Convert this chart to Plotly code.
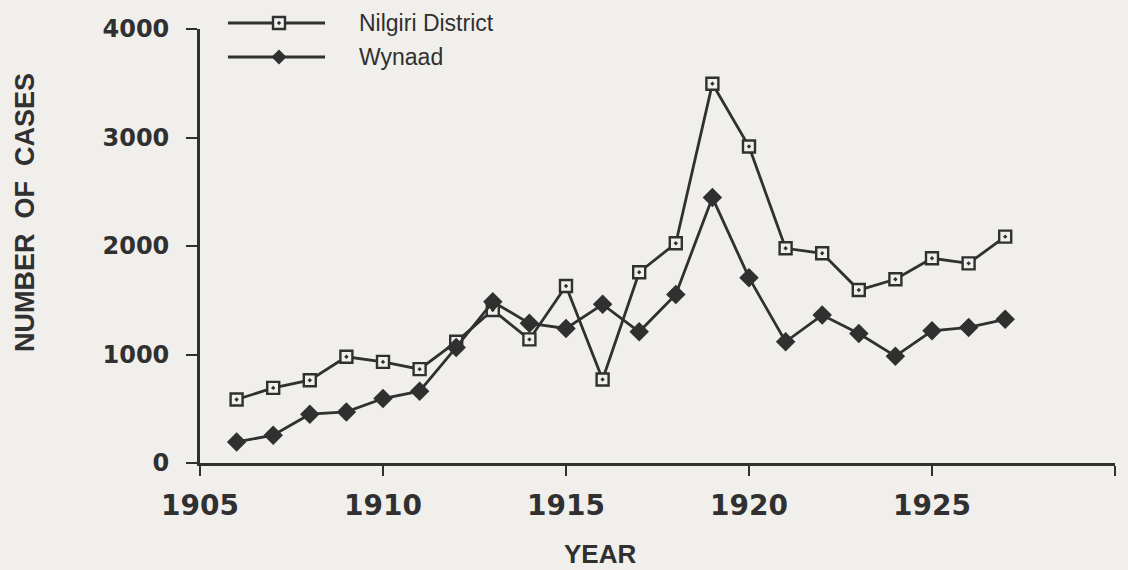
import plotly.graph_objects as go

# ---------------- data ----------------
years = list(range(1906, 1928))
nilgiri = [585, 692, 763, 979, 932, 865, 1117, 1410, 1139, 1631, 770,
           1758, 2025, 3496, 2917, 1979, 1933, 1594, 1693, 1887, 1840, 2086]
wynaad = [194, 256, 450, 471, 594, 662, 1065, 1486, 1287, 1240, 1462,
          1209, 1554, 2446, 1708, 1117, 1363, 1194, 985, 1219, 1250, 1324]
series_names = ["Nilgiri District", "Wynaad"]
x_tick_vals = [1905, 1910, 1915, 1920, 1925, 1930]
x_tick_text = ["1905", "1910", "1915", "1920", "1925", ""]
y_tick_vals = [0, 1000, 2000, 3000, 4000]
x_title = "YEAR"
y_title = "NUMBER  OF  CASES"

# ---------------- style ----------------
INK = "#303030"
BG = "#f1efec"
W, H = 1128, 570
L, R, T, B = 200, 13, 29, 107
PW, PH = W - L - R, H - T - B


def px_x(p):
    return (p - L) / PW


def px_y(p):
    return (H - B - p) / PH


fig = go.Figure()
fig.add_trace(go.Scatter(
    x=years, y=nilgiri, name=series_names[0], mode="lines+markers",
    line=dict(color=INK, width=2.8),
    marker=dict(symbol="square-dot", size=12, color=BG,
                line=dict(color=INK, width=2.4)),
    showlegend=False))
fig.add_trace(go.Scatter(
    x=years, y=wynaad, name=series_names[1], mode="lines+markers",
    line=dict(color=INK, width=2.8),
    marker=dict(symbol="diamond", size=15, color=INK, line=dict(width=0)),
    showlegend=False))

tickfont_x = dict(family="DejaVu Sans", size=28, color=INK, weight="bold")
tickfont_y = dict(family="DejaVu Sans", size=24, color=INK, weight="bold")

fig.update_xaxes(range=[1905, 1930], tickmode="array", tickvals=x_tick_vals,
                 ticktext=x_tick_text, ticks="outside", ticklen=10, tickwidth=2.4,
                 tickcolor=INK, showline=True, linecolor=INK, linewidth=2.8,
                 showgrid=False, zeroline=False, tickfont=tickfont_x,
                 ticklabelstandoff=5)
fig.update_yaxes(range=[0, 4000], tickmode="array", tickvals=y_tick_vals,
                 ticks="outside", ticklen=11, tickwidth=2.4, tickcolor=INK,
                 showline=True, linecolor=INK, linewidth=2.8, showgrid=False,
                 zeroline=False, tickfont=tickfont_y, ticklabelstandoff=12)

# ---------------- custom legend (long line samples) ----------------
shapes = []
annotations = []
legend_rows = [(23, "square"), (57, "diamond")]
for (ypix, kind), name in zip(legend_rows, series_names):
    shapes.append(dict(type="line", xref="paper", yref="paper",
                       x0=px_x(228), x1=px_x(325), y0=px_y(ypix), y1=px_y(ypix),
                       line=dict(color=INK, width=2.8)))
    if kind == "square":
        shapes.append(dict(type="rect", xref="paper", yref="paper",
                           xsizemode="pixel", ysizemode="pixel",
                           xanchor=px_x(279), yanchor=px_y(ypix),
                           x0=-6, x1=6, y0=-6, y1=6,
                           fillcolor=BG, line=dict(color=INK, width=2.4)))
        shapes.append(dict(type="circle", xref="paper", yref="paper",
                           xsizemode="pixel", ysizemode="pixel",
                           xanchor=px_x(279), yanchor=px_y(ypix),
                           x0=-1.3, x1=1.3, y0=-1.3, y1=1.3,
                           fillcolor=INK, line=dict(color=INK, width=1)))
    else:
        shapes.append(dict(type="path", xref="paper", yref="paper",
                           xsizemode="pixel", ysizemode="pixel",
                           xanchor=px_x(279), yanchor=px_y(ypix),
                           path="M0,7.5 L7.5,0 L0,-7.5 L-7.5,0 Z",
                           fillcolor=INK, line=dict(color=INK, width=0)))
    annotations.append(dict(text=name, xref="paper", yref="paper",
                            x=px_x(357), y=px_y(ypix), xanchor="left",
                            yanchor="middle", showarrow=False,
                            font=dict(family="Liberation Sans", size=23, color=INK)))

# axis titles
annotations.append(dict(text=x_title, xref="paper", yref="paper",
                        x=px_x(600), y=px_y(554), xanchor="center", yanchor="middle",
                        showarrow=False,
                        font=dict(family="Liberation Sans", size=26, color=INK,
                                  weight="bold")))
annotations.append(dict(text=y_title, xref="paper", yref="paper",
                        x=px_x(25), y=px_y(213), xanchor="center", yanchor="middle",
                        textangle=-90, showarrow=False,
                        font=dict(family="Liberation Sans", size=27, color=INK,
                                  weight="bold")))

fig.update_layout(width=W, height=H, margin=dict(l=L, r=R, t=T, b=B),
                  paper_bgcolor=BG, plot_bgcolor=BG, showlegend=False,
                  shapes=shapes, annotations=annotations)

fig.write_html("out.html", config={"displayModeBar": False},
               post_script="document.body.style.margin='0';"
                           "document.body.style.padding='0';"
                           "document.body.style.background='" + BG + "';")
